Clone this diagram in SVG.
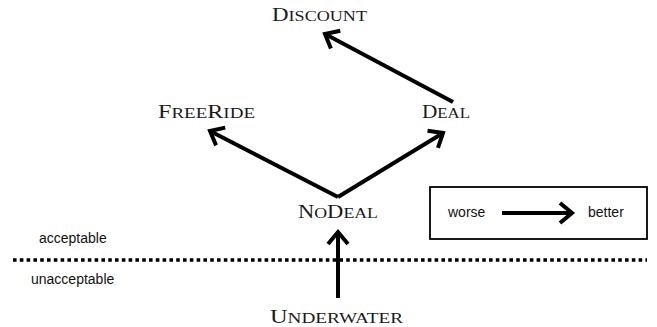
<svg xmlns="http://www.w3.org/2000/svg" width="657" height="327" viewBox="0 0 657 327">
<style>
.node text{font-family:"Liberation Serif","DejaVu Serif",serif;fill:#1a1a1a}
.cap{font-size:19px}
.sc{font-size:15px}
.lab{font-family:"Liberation Sans",Arial,sans-serif;font-size:14px;fill:#111}
.edge{stroke:#000;stroke-width:4;fill:none}
</style>
<defs>
<marker id="ah" markerUnits="userSpaceOnUse" markerWidth="30" markerHeight="30" viewBox="-20 -15 30 30" refX="0" refY="0" orient="auto">
<path d="M -12 -10 L 0 0 L -12 10" fill="none" stroke="#000" stroke-width="4" stroke-linejoin="miter" stroke-linecap="butt"/>
</marker>
</defs>
<rect width="657" height="327" fill="#fff"/>
<g id="discount" class="node"><text x="272" y="21" textLength="95" lengthAdjust="spacingAndGlyphs"><tspan class="cap">D</tspan><tspan class="sc">ISCOUNT</tspan></text></g>
<g id="freeride" class="node"><text x="158" y="118" textLength="97" lengthAdjust="spacingAndGlyphs"><tspan class="cap">F</tspan><tspan class="sc">REE</tspan><tspan class="cap">R</tspan><tspan class="sc">IDE</tspan></text></g>
<g id="deal" class="node"><text x="422" y="118" textLength="48" lengthAdjust="spacingAndGlyphs"><tspan class="cap">D</tspan><tspan class="sc">EAL</tspan></text></g>
<g id="nodeal" class="node"><text x="298" y="218" textLength="80" lengthAdjust="spacingAndGlyphs"><tspan class="cap">N</tspan><tspan class="sc">O</tspan><tspan class="cap">D</tspan><tspan class="sc">EAL</tspan></text></g>
<g id="underwater" class="node"><text x="270" y="323" textLength="133" lengthAdjust="spacingAndGlyphs"><tspan class="cap">U</tspan><tspan class="sc">NDERWATER</tspan></text></g>
<g id="connectors">
<path class="edge" d="M 338 197 L 210 131" marker-end="url(#ah)"/>
<path class="edge" d="M 338 197 L 443 133" marker-end="url(#ah)"/>
<path class="edge" d="M 453 102 L 325 34" marker-end="url(#ah)"/>
<path class="edge" d="M 338 298 L 338 232" marker-end="url(#ah)"/>
</g>
<g id="legend">
<rect x="430" y="187" width="217" height="52" fill="none" stroke="#000" stroke-width="1.8"/>
<text class="lab" x="448" y="217">worse</text>
<path class="edge" d="M 502 213 L 572 213" marker-end="url(#ah)"/>
<text class="lab" x="588" y="217">better</text>
</g>
<g id="threshold">
<line x1="13" y1="260" x2="647" y2="260" stroke="#000" stroke-width="3.6" stroke-dasharray="3.6 3.2"/>
<text class="lab" x="39" y="243">acceptable</text>
<text class="lab" x="31" y="284">unacceptable</text>
</g>
</svg>
